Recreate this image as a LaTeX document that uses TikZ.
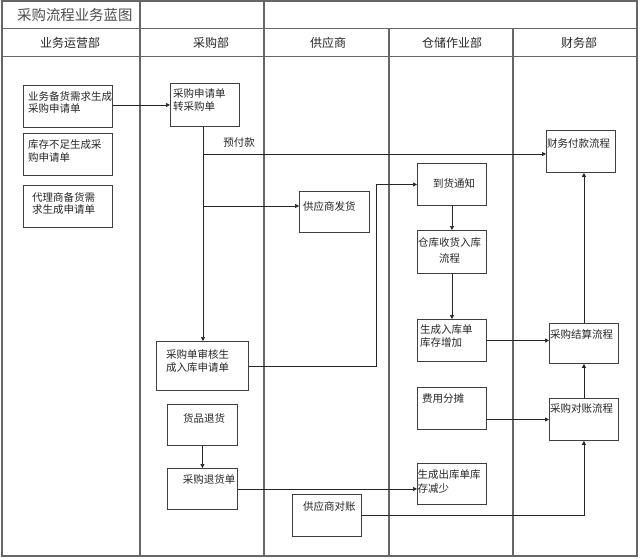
\documentclass[tikz,border=0pt]{standalone}
\usepackage{fontspec}
\setmainfont{Noto Sans CJK SC}
\usetikzlibrary{arrows.meta}
\begin{document}
\begin{tikzpicture}[x=1pt,y=-1pt,
  frame/.style={draw=black!60, line width=1.3pt},
  box/.style={draw=black!75, line width=0.9pt, rectangle, inner sep=0pt, anchor=north west},
  txt/.style={inner sep=0pt, font=\fontsize{10.5}{12.5}\selectfont, align=left, text=black!85},
  hdr/.style={inner sep=0pt, font=\fontsize{12}{14}\selectfont, text=black!85},
  arr/.style={draw=black!85, line width=0.7pt, -{Triangle[length=4pt,width=4pt]}}]
\useasboundingbox (0,0) rectangle (640,558);
% frame
\draw[frame] (2,1) rectangle (637,556);
\draw[frame] (2,28.5) -- (637,28.5);
\draw[frame] (2,56.5) -- (637,56.5);
\draw[frame] (140,1) -- (140,556);
\draw[frame] (264,1) -- (264,556);
\draw[frame] (389,28.5) -- (389,556);
\draw[frame] (513,28.5) -- (513,556);
% title and headers
\node[inner sep=0pt, font=\fontsize{14.4}{16}\selectfont, text=black!70, anchor=west] (title) at (17,15) {采购流程业务蓝图};
\node[hdr] (h1) at (70,43) {业务运营部};
\node[hdr] (h2) at (211,43) {采购部};
\node[hdr] (h3) at (328,43) {供应商};
\node[hdr] (h4) at (452,43) {仓储作业部};
\node[hdr] (h5) at (579,43) {财务部};
% boxes
\node[box, minimum width=89pt, minimum height=42pt] (n1) at (23,85) {};
\node[txt, anchor=west] (t1) at (28,102.5) {业务备货需求生成\\采购申请单};
\node[box, minimum width=89pt, minimum height=42pt] (n2) at (23,133) {};
\node[txt, anchor=west] (t2) at (28,151) {库存不足生成采\\购申请单};
\node[box, minimum width=89pt, minimum height=42pt] (n3) at (23,185) {};
\node[txt, anchor=west] (t3) at (32,203.5) {代理商备货需\\求生成申请单};
\node[box, minimum width=69pt, minimum height=43pt] (n4) at (170,83) {};
\node[txt, anchor=west] (t4) at (173,100) {采购申请单\\转采购单};
\node[txt] (t0) at (239,143) {预付款};
\node[box, minimum width=70pt, minimum height=41pt] (n5) at (299,191) {};
\node[txt, anchor=west] (t5) at (303,206) {供应商发货};
\node[box, minimum width=69pt, minimum height=42pt] (n6) at (546,130) {};
\node[txt, anchor=west] (t6) at (547,144) {财务付款流程};
\node[box, minimum width=69pt, minimum height=42pt] (n7) at (417,163) {};
\node[txt] (t7) at (454,183) {到货通知};
\node[box, minimum width=69pt, minimum height=43pt] (n8) at (417,230) {};
\node[txt, align=center, font=\fontsize{10.5}{16}\selectfont] (t8) at (449.5,250) {仓库收货入库\\流程};
\node[box, minimum width=69pt, minimum height=42pt] (n9) at (417,319) {};
\node[txt, anchor=west, font=\fontsize{10.5}{13}\selectfont] (t9) at (420,336.5) {生成入库单\\库存增加};
\node[box, minimum width=69pt, minimum height=40pt] (n10) at (549,323) {};
\node[txt, anchor=west] (t10) at (550,334) {采购结算流程};
\node[box, minimum width=69pt, minimum height=42pt] (n11) at (417,387) {};
\node[txt, anchor=west] (t11) at (422,399) {费用分摊};
\node[box, minimum width=69pt, minimum height=42pt] (n12) at (549,398) {};
\node[txt, anchor=west] (t12) at (550,409) {采购对账流程};
\node[box, minimum width=92pt, minimum height=49pt] (n13) at (156,341) {};
\node[txt, anchor=west, font=\fontsize{10.5}{13}\selectfont] (t13) at (166,361.5) {采购单审核生\\成入库申请单};
\node[box, minimum width=70pt, minimum height=41pt] (n14) at (167,404) {};
\node[txt] (t14) at (204,418) {货品退货};
\node[box, minimum width=70pt, minimum height=41pt] (n15) at (167,468) {};
\node[txt] (t15) at (209,479) {采购退货单};
\node[box, minimum width=69pt, minimum height=41pt] (n16) at (417,463) {};
\node[txt, anchor=west, font=\fontsize{10.5}{14}\selectfont] (t16) at (417.5,482) {生成出库单库\\存减少};
\node[box, minimum width=69pt, minimum height=42pt] (n17) at (292,494) {};
\node[txt, anchor=west] (t17) at (303,506) {供应商对账};
% connectors
\coordinate (vx) at (203,0);
\coordinate (b1) at (203,154);
\coordinate (b2) at (203,206);
\coordinate (k) at (376,0);
\draw[arr] (n1.east |- n4.west) -- (n4.west);
\draw[arr] (vx |- n4.south) -- (vx |- n13.north);
\draw[arr] (b1) -- (b1 -| n6.west);
\draw[arr] (b2) -- (b2 -| n5.west);
\draw[arr] (n13.east) -| (k |- n7.west) -- (n7.west);
\draw[arr] (n7.south) -- (n8.north);
\draw[arr] (n8.south) -- (n9.north);
\draw[arr] (n9.east) -- (n9.east -| n10.west);
\draw[arr] (n10.north) -- (n10.north |- n6.south);
\draw[arr] (n12.west -| n11.east) -- (n12.west);
\draw[arr] (n12.north) -- (n10.south);
\draw[arr] (n14.south) -- (n15.north);
\draw[arr] (n15.east) -- (n15.east -| n16.west);
\draw[arr] (n17.east) -| (n12.south);
\end{tikzpicture}
\end{document}
